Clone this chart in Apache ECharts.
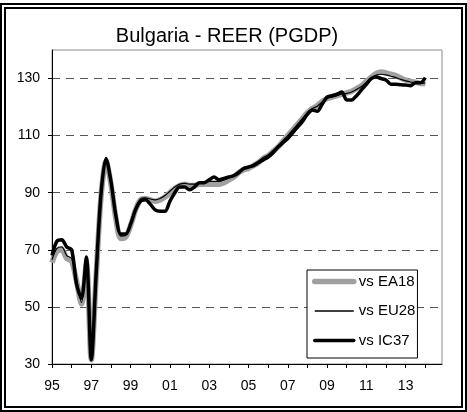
<!DOCTYPE html>
<html>
<head>
<meta charset="utf-8">
<script src="https://cdn.jsdelivr.net/npm/echarts@6/dist/echarts.min.js"></script>
<style>
html, body { margin: 0; padding: 0; background: #fff; }
#chart { width: 467px; height: 412px; }
</style>
</head>
<body>
<div id="chart"></div>
<script>
// quarterly, 1995Q1 .. 2014Q1
var startYear = 1995;
var yearTicks = [1995, 1996, 1997, 1998, 1999, 2000, 2001, 2002, 2003, 2004,
	2005, 2006, 2007, 2008, 2009, 2010, 2011, 2012, 2013, 2014];
var yearLabels = [1995, 1997, 1999, 2001, 2003, 2005, 2007, 2009, 2011, 2013];
var valueTicks = [30, 50, 70, 90, 110, 130];

var ea18 = [65.5, 69.5, 70, 67, 66, 59, 51, 65, 31.5, 61, 89, 101, 93, 81, 74, 74.5,
	78.5, 84, 87.5, 88, 87.5, 87, 87.5, 88.5, 90, 91.5, 92.5, 93, 92.5, 92.5, 93, 93,
	93, 93, 93, 93.5, 94.5, 95.5, 97, 98, 98.5, 99.5, 100.5, 102, 103, 104.5, 106, 108,
	110, 112, 114, 116, 118, 119.5, 120.5, 122, 123, 123.5, 124, 124.5, 125, 125.5, 126.5, 127.5,
	129, 130.5, 131.8, 132.3, 132, 131.5, 131, 130.2, 129.5, 129, 128.7, 128.3, 128.3];

var eu28 = [66.5, 70.5, 71, 68, 67, 59.5, 51.5, 65.5, 31.5, 61.5, 89.5, 101.5, 93.5, 81.5, 74.8, 75,
	79, 84.5, 87.8, 88.2, 87.8, 87.5, 88, 89, 90.5, 92, 93, 93.3, 93, 93, 93.5, 93.8,
	94, 94, 94, 94.5, 95.3, 96.2, 97.5, 98.5, 99, 100, 101, 102.3, 103.3, 104.8, 106.3, 108.2,
	110, 112, 114, 116, 118, 119.5, 120.3, 121.8, 123, 123.5, 124, 124.5, 124.8, 125.3, 126.2, 127.2,
	128.6, 130, 131.2, 131.5, 131.3, 130.8, 130.3, 129.7, 129.2, 128.8, 128.5, 128.3, 128.5];

var ic37 = [68, 73, 73.5, 71, 70, 58, 53, 67.5, 31.5, 62, 90, 102, 94, 82, 75.5, 75.5,
	79, 84, 87, 87.5, 86, 84, 83.5, 83.5, 87, 90, 92, 92, 91, 92, 93.5, 93.5,
	94.5, 95.5, 94.5, 95, 95.5, 96, 97, 98.5, 99, 99.5, 100.5, 101.5, 102.5, 104, 106, 107.5,
	109, 111, 113, 115, 117.5, 119, 118.5, 121, 123.5, 124, 124.5, 125.3, 122.5, 122.5, 124, 126,
	128, 130, 130.5, 130, 129.5, 128, 128, 127.8, 127.7, 127.5, 128.5, 128.5, 130.3];

function toPoints(vals) {
	var out = [];
	for (var i = 0; i < vals.length; i++) {
		out.push([startYear + i / 4, vals[i]]);
	}
	return out;
}

var myChart = echarts.init(document.getElementById('chart'));
var font = 'Liberation Sans, Arial, sans-serif';
var dashCol = '#555555';
var noDot = { color: 'rgba(0,0,0,0)', borderWidth: 0, opacity: 0 };

var option = {
	backgroundColor: '#ffffff',
	animation: false,
	title: {
		text: 'Bulgaria - REER (PGDP)',
		left: 222,
		top: 21,
		textAlign: 'center',
		textStyle: { fontFamily: font, fontSize: 20, fontWeight: 'normal', color: '#000' }
	},
	grid: {
		left: 52, right: 25, top: 50, bottom: 48,
		show: true, borderColor: '#8c8c8c', borderWidth: 1, backgroundColor: '#fff'
	},
	legend: {
		orient: 'vertical',
		left: 307, top: 270,
		data: [
			{ name: 'vs EA18', itemStyle: noDot, lineStyle: { width: 5.5, color: '#a0a0a0', cap: 'round' } },
			{ name: 'vs EU28', itemStyle: noDot, lineStyle: { width: 1.3, color: '#000' } },
			{ name: 'vs IC37', itemStyle: noDot, lineStyle: { width: 3.5, color: '#000', cap: 'round' } }
		],
		itemStyle: noDot,
		itemWidth: 39, itemHeight: 13, itemGap: 14.5,
		padding: [4, 2, 10, 5],
		backgroundColor: '#fff',
		borderColor: '#000', borderWidth: 1, borderRadius: 0,
		textStyle: { fontFamily: font, fontSize: 15, color: '#000' }
	},
	xAxis: {
		type: 'value',
		min: 1995, max: 2014.85, interval: 1,
		axisLine: { lineStyle: { color: '#000', width: 1 } },
		axisTick: { length: 4, customValues: yearTicks, lineStyle: { color: '#000' } },
		splitLine: { show: false },
		axisLabel: {
			margin: 14, lineHeight: 16,
			customValues: yearLabels,
			fontFamily: font, fontSize: 14, color: '#000',
			formatter: function(v) {
				return String(Math.round(v)).slice(2);
			}
		}
	},
	yAxis: {
		type: 'value',
		min: 30, max: 140, interval: 20,
		axisLine: { show: true, lineStyle: { color: '#000', width: 1 } },
		axisTick: { show: true, length: 4, customValues: valueTicks, lineStyle: { color: '#000' } },
		axisLabel: {
			margin: 12, fontFamily: font, fontSize: 14, color: '#000',
			customValues: valueTicks
		},
		splitLine: {
			show: true,
			lineStyle: {
				color: ['rgba(0,0,0,0)', dashCol, dashCol, dashCol, dashCol, dashCol],
				type: [8, 6], width: 1
			}
		}
	},
	series: [{
		name: 'vs EA18',
		type: 'line',
		data: toPoints(ea18),
		showSymbol: false, symbol: 'none',
		smooth: 0.3,
		lineStyle: { color: '#a0a0a0', width: 5.5 },
		itemStyle: { color: '#a0a0a0' }
	}, {
		name: 'vs EU28',
		type: 'line',
		data: toPoints(eu28),
		showSymbol: false, symbol: 'none',
		smooth: 0.3,
		z: 4,
		lineStyle: { color: '#000', width: 1.2 },
		itemStyle: { color: '#000' }
	}, {
		name: 'vs IC37',
		type: 'line',
		data: toPoints(ic37),
		showSymbol: false, symbol: 'none',
		smooth: 0.3,
		lineStyle: { color: '#000', width: 3.5 },
		itemStyle: { color: '#000' }
	}],
	graphic: [{
		type: 'rect', silent: true,
		shape: { x: 1, y: 4, width: 465, height: 407 },
		style: { fill: null, stroke: '#000', lineWidth: 2 }
	}, {
		type: 'rect', silent: true,
		shape: { x: 5, y: 8, width: 457, height: 399 },
		style: { fill: null, stroke: '#000', lineWidth: 2 }
	}]
};

myChart.setOption(option);
</script>
</body>
</html>
